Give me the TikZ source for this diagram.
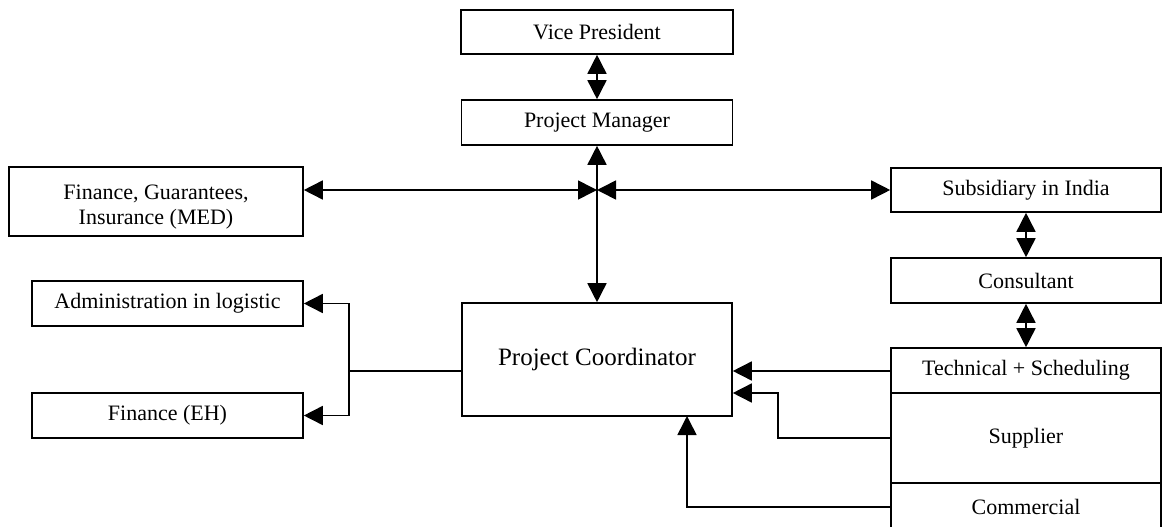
\documentclass[tikz,border=0pt]{standalone}
\usepackage{fontspec}
\setmainfont{Liberation Serif}
\usetikzlibrary{arrows.meta}
\begin{document}
\begin{tikzpicture}[x=1pt,y=-1pt,
  box/.style={draw,line width=1.6pt,inner sep=0pt,align=center,
    font=\fontsize{22}{25}\selectfont},
  link/.style={line width=1.6pt},
  tip/.style={-{Triangle[length=19pt,width=19pt]}},
  dtip/.style={{Triangle[length=19pt,width=19pt]}-{Triangle[length=19pt,width=19pt]}}]
\useasboundingbox (0,0) rectangle (1162,527);
\begin{scope}
\clip (0,0) rectangle (1162,527);
% boxes of the organisation chart
\node[box,minimum width=272pt,minimum height=44pt] (vp) at (597,32) {Vice President};
\node[box,minimum width=271pt,minimum height=45pt] (pm) at (597,122.5) {Project Manager};
\node[box,minimum width=294pt,minimum height=69pt,align=none] (fin) at (156,201.5)
  {\raisebox{-5pt}[\height][\depth]{\begin{tabular}{@{}c@{}}Finance, Guarantees,\\Insurance (MED)\end{tabular}}};
\node[box,minimum width=270pt,minimum height=44pt] (sub) at (1026,190) {Subsidiary in India};
\node[box,minimum width=270pt,minimum height=45pt] (con) at (1026,280.5) {Consultant};
\node[box,minimum width=270pt,minimum height=45pt] (tech) at (1026,370.5) {Technical + Scheduling};
\node[box,minimum width=270pt,minimum height=90pt] (sup) at (1026,438) {Supplier};
\node[box,minimum width=270pt,minimum height=48pt,text depth=0pt] (com) at (1026,507) {Commercial};
\node[box,minimum width=270pt,minimum height=113pt,font=\fontsize{25}{28}\selectfont] (pc) at (597,359.5) {Project Coordinator};
\node[box,minimum width=271pt,minimum height=45pt] (adm) at (167.5,303.5) {Administration in logistic};
\node[box,minimum width=271pt,minimum height=45pt] (feh) at (167.5,415.5) {Finance (EH)};
\end{scope}
% routing points
\coordinate (j) at (597,190);
\coordinate (lb) at (349,371);
\coordinate (pcl) at (462,371);
\coordinate (sx) at (778,393);
\coordinate (cx) at (687,416);
% vertical links
\draw[link,dtip] (vp.south) -- (pm.north);
\draw[link,dtip] (pm.south) -- (pc.north);
\draw[link,dtip] (sub.south) -- (con.north);
\draw[link,dtip] (con.south) -- (tech.north);
% horizontal links through the junction
\draw[link,dtip] (fin.east |- j) -- (j);
\draw[link,dtip] (j) -- (sub.west);
% left branch
\draw[link] (pcl) -- (lb);
\draw[link,tip] (lb) |- (adm.east);
\draw[link,tip] (lb) |- (feh.east);
% links from the supplier block
\draw[link,tip] (tech.west |- pcl) -- (pcl -| pc.east);
\draw[link,tip] (sup.west) -| (sx) -- (sx -| pc.east);
\draw[link,tip] (com.west) -| (cx);
\end{tikzpicture}
\end{document}
